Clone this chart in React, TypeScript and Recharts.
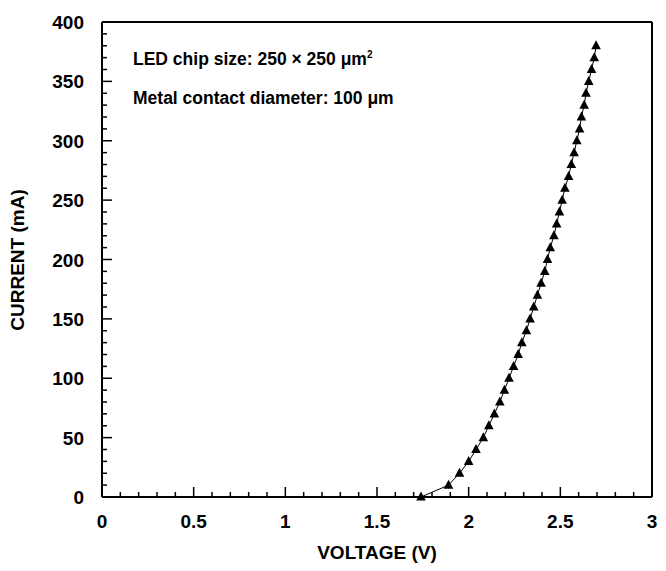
import { ScatterChart, Scatter, XAxis, YAxis } from "recharts";

// I–V curve of the LED: current steps of 10 mA, voltage
const current = [
  0, 10, 20, 30, 40, 50, 60, 70, 80, 90, 100, 110, 120, 130, 140, 150, 160,
  170, 180, 190, 200, 210, 220, 230, 240, 250, 260, 270, 280, 290, 300, 310,
  320, 330, 340, 350, 360, 370, 380,
];
const voltage = [
  1.74, 1.89, 1.95, 2.0, 2.04, 2.08, 2.11, 2.14, 2.17, 2.195, 2.22, 2.245,
  2.27, 2.29, 2.315, 2.335, 2.355, 2.375, 2.395, 2.415, 2.43, 2.445, 2.465,
  2.48, 2.495, 2.51, 2.525, 2.545, 2.56, 2.575, 2.59, 2.605, 2.615, 2.63,
  2.64, 2.655, 2.67, 2.685, 2.695,
];

const xTicks = [
  0, 0.1, 0.2, 0.3, 0.4, 0.5, 0.6, 0.7, 0.8, 0.9, 1, 1.1, 1.2, 1.3, 1.4, 1.5,
  1.6, 1.7, 1.8, 1.9, 2, 2.1, 2.2, 2.3, 2.4, 2.5, 2.6, 2.7, 2.8, 2.9, 3,
];
const xLabels = [0, 0.5, 1, 1.5, 2, 2.5, 3];
const yTicks = [
  0, 10, 20, 30, 40, 50, 60, 70, 80, 90, 100, 110, 120, 130, 140, 150, 160,
  170, 180, 190, 200, 210, 220, 230, 240, 250, 260, 270, 280, 290, 300, 310,
  320, 330, 340, 350, 360, 370, 380, 390, 400,
];
const yLabels = [0, 50, 100, 150, 200, 250, 300, 350, 400];

const data = voltage.map((v, i) => ({ v, c: current[i] }));

const FONT = "'Liberation Sans', Arial, Helvetica, sans-serif";
const isX = (v: number) => xLabels.some((m) => Math.abs(m - v) < 1e-6);
const isY = (v: number) => yLabels.includes(v);

const labelStyle = {
  fontSize: 19,
  fontWeight: "bold" as const,
  fontFamily: FONT,
  fill: "#000",
};

function BottomTick({ x, y, payload }: any) {
  const major = isX(payload.value);
  return (
    <g>
      <line x1={x} x2={x} y1={y} y2={y - (major ? 10 : 5)} stroke="#000" strokeWidth={1.5} />
      {major && (
        <text x={x} y={y + 31} textAnchor="middle" {...labelStyle}>
          {String(payload.value)}
        </text>
      )}
    </g>
  );
}

function TopTick({ x, y, payload }: any) {
  const major = isX(payload.value);
  return <line x1={x} x2={x} y1={y} y2={y + (major ? 10 : 5)} stroke="#000" strokeWidth={1.5} />;
}

function LeftTick({ x, y, payload }: any) {
  const major = isY(payload.value);
  return (
    <g>
      <line x1={x} x2={x + (major ? 10 : 5)} y1={y} y2={y} stroke="#000" strokeWidth={1.5} />
      {major && (
        <text x={x - 18} y={y + 7} textAnchor="end" {...labelStyle}>
          {String(payload.value)}
        </text>
      )}
    </g>
  );
}

function RightTick({ x, y, payload }: any) {
  const major = isY(payload.value);
  return <line x1={x} x2={x - (major ? 10 : 5)} y1={y} y2={y} stroke="#000" strokeWidth={1.5} />;
}

function Triangle({ cx, cy }: any) {
  return (
    <path
      d={`M${cx},${cy - 5.5}L${cx + 4.8},${cy + 3.5}L${cx - 4.8},${cy + 3.5}Z`}
      fill="#000"
    />
  );
}

const frame = { stroke: "#000", strokeWidth: 2 };

export default function App() {
  return (
    <div
      style={{
        position: "absolute",
        left: 0,
        top: 0,
        width: 666,
        height: 571,
        background: "#fff",
        fontFamily: FONT,
      }}
    >
      <ScatterChart width={666} height={571} margin={{ top: 0, right: 0, bottom: 0, left: 0 }}>
        <XAxis
          type="number"
          dataKey="v"
          domain={[0, 3]}
          ticks={xTicks}
          interval={0}
          height={74}
          tickSize={0}
          tickMargin={0}
          tickLine={false}
          axisLine={frame}
          tick={<BottomTick />}
        />
        <XAxis
          xAxisId="top"
          orientation="top"
          type="number"
          domain={[0, 3]}
          ticks={xTicks}
          interval={0}
          height={22}
          tickSize={0}
          tickMargin={0}
          tickLine={false}
          axisLine={frame}
          tick={<TopTick />}
        />
        <YAxis
          type="number"
          dataKey="c"
          domain={[0, 400]}
          ticks={yTicks}
          interval={0}
          width={102}
          tickSize={0}
          tickMargin={0}
          tickLine={false}
          axisLine={frame}
          tick={<LeftTick />}
        />
        <YAxis
          yAxisId="right"
          orientation="right"
          type="number"
          domain={[0, 400]}
          ticks={yTicks}
          interval={0}
          width={14}
          tickSize={0}
          tickMargin={0}
          tickLine={false}
          axisLine={frame}
          tick={<RightTick />}
        />
        <Scatter
          data={data}
          line={{ stroke: "#000", strokeWidth: 1 }}
          shape={<Triangle />}
          fill="#000"
          isAnimationActive={false}
        />
      </ScatterChart>

      {/* annotations */}
      <div
        style={{
          position: "absolute",
          left: 133,
          top: 45,
          fontSize: 17.5,
          fontWeight: "bold",
          lineHeight: "20px",
          whiteSpace: "nowrap",
        }}
      >
        LED chip size: 250 × 250 μm<sup style={{ fontSize: 10 }}>2</sup>
      </div>
      <div
        style={{
          position: "absolute",
          left: 133,
          top: 88,
          fontSize: 17.5,
          fontWeight: "bold",
          lineHeight: "20px",
          whiteSpace: "nowrap",
        }}
      >
        Metal contact diameter: 100 μm
      </div>

      {/* axis titles */}
      <div
        style={{
          position: "absolute",
          left: 102,
          width: 550,
          top: 542,
          textAlign: "center",
          fontSize: 19,
          fontWeight: "bold",
          lineHeight: "22px",
        }}
      >
        VOLTAGE (V)
      </div>
      <div
        style={{
          position: "absolute",
          left: 18,
          top: 260,
          transform: "translate(-50%, -50%) rotate(-90deg)",
          fontSize: 19,
          fontWeight: "bold",
          lineHeight: "22px",
          whiteSpace: "nowrap",
        }}
      >
        CURRENT (mA)
      </div>
    </div>
  );
}
